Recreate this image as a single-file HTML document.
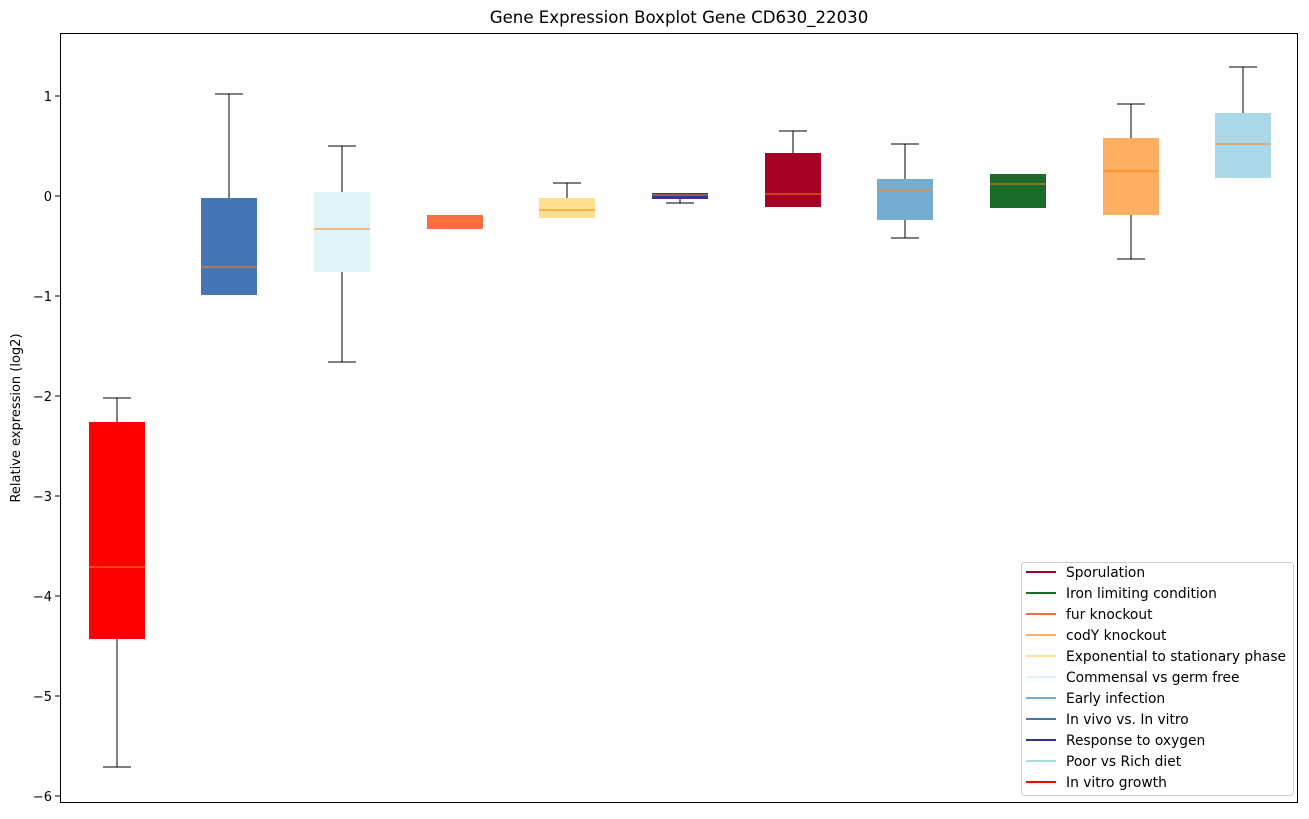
<!DOCTYPE html>
<html><head><meta charset="utf-8"><style>body{margin:0;background:#fff}</style></head><body>
<svg width="1309" height="814" xmlns="http://www.w3.org/2000/svg" font-family="DejaVu Sans, Liberation Sans, sans-serif">
<rect width="1309" height="814" fill="#fff"/>
<text x="679" y="23" font-size="16.6" text-anchor="middle">Gene Expression Boxplot Gene CD630_22030</text>
<text x="20" y="418" font-size="13" text-anchor="middle" transform="rotate(-90 20 418)">Relative expression (log2)</text>
<g font-size="13" text-anchor="end">
<line x1="55" x2="60" y1="96" y2="96" stroke="#000"/><text x="52" y="101">1</text>
<line x1="55" x2="60" y1="196" y2="196" stroke="#000"/><text x="52" y="201">0</text>
<line x1="55" x2="60" y1="296" y2="296" stroke="#000"/><text x="52" y="301">−1</text>
<line x1="55" x2="60" y1="396" y2="396" stroke="#000"/><text x="52" y="401">−2</text>
<line x1="55" x2="60" y1="496" y2="496" stroke="#000"/><text x="52" y="501">−3</text>
<line x1="55" x2="60" y1="596" y2="596" stroke="#000"/><text x="52" y="601">−4</text>
<line x1="55" x2="60" y1="696" y2="696" stroke="#000"/><text x="52" y="701">−5</text>
<line x1="55" x2="60" y1="796" y2="796" stroke="#000"/><text x="52" y="801">−6</text>
</g>
<g stroke="#000">
<line x1="117" x2="117" y1="398" y2="422"/><line x1="117" x2="117" y1="639" y2="767"/><line x1="103" x2="131" y1="398" y2="398"/><line x1="103" x2="131" y1="767" y2="767"/>
<line x1="229" x2="229" y1="94" y2="198"/><line x1="215" x2="243" y1="94" y2="94"/>
<line x1="342" x2="342" y1="146" y2="192"/><line x1="342" x2="342" y1="272" y2="362"/><line x1="328" x2="356" y1="146" y2="146"/><line x1="328" x2="356" y1="362" y2="362"/>
<line x1="567" x2="567" y1="183" y2="198"/><line x1="553" x2="581" y1="183" y2="183"/>
<line x1="680" x2="680" y1="199" y2="203"/><line x1="666" x2="694" y1="203" y2="203"/>
<line x1="793" x2="793" y1="131" y2="153"/><line x1="779" x2="807" y1="131" y2="131"/>
<line x1="905" x2="905" y1="144" y2="179"/><line x1="905" x2="905" y1="220" y2="238"/><line x1="891" x2="919" y1="144" y2="144"/><line x1="891" x2="919" y1="238" y2="238"/>
<line x1="1131" x2="1131" y1="104" y2="138"/><line x1="1131" x2="1131" y1="215" y2="259"/><line x1="1117" x2="1145" y1="104" y2="104"/><line x1="1117" x2="1145" y1="259" y2="259"/>
<line x1="1243" x2="1243" y1="67" y2="113"/><line x1="1229" x2="1257" y1="67" y2="67"/>
</g>
<rect x="89" y="422" width="56" height="217" fill="#ff0000"/>
<rect x="201" y="198" width="56" height="97" fill="#4575b4"/>
<rect x="314" y="192" width="56" height="80" fill="#e0f3f8"/>
<rect x="427" y="215" width="56" height="14" fill="#f46d43"/>
<rect x="539" y="198" width="56" height="20" fill="#fee090"/>
<rect x="652" y="193" width="56" height="6" fill="#313695"/>
<rect x="765" y="153" width="56" height="54" fill="#a50026"/>
<rect x="877" y="179" width="56" height="41" fill="#74add1"/>
<rect x="990" y="174" width="56" height="34" fill="#1a6a2a"/>
<rect x="1103" y="138" width="56" height="77" fill="#fdae61"/>
<rect x="1215" y="113" width="56" height="65" fill="#abd9e9"/>
<g stroke="#ff7f0e">
<line x1="89" x2="145" y1="567" y2="567"/><line x1="201" x2="257" y1="267" y2="267"/><line x1="314" x2="370" y1="229" y2="229"/><line x1="427" x2="483" y1="221" y2="221"/><line x1="539" x2="595" y1="210" y2="210"/><line x1="652" x2="708" y1="195" y2="195"/><line x1="765" x2="821" y1="194" y2="194"/><line x1="877" x2="933" y1="190" y2="190"/><line x1="990" x2="1046" y1="184" y2="184"/><line x1="1103" x2="1159" y1="171" y2="171"/><line x1="1215" x2="1271" y1="144" y2="144"/>
</g>
<rect x="60.5" y="33.5" width="1237" height="769" fill="none" stroke="#000"/>
<rect x="1021.5" y="562.5" width="272" height="233" rx="3" fill="#fff" stroke="#ccc"/>
<g stroke-width="2">
<line x1="1026" x2="1056" y1="572" y2="572" stroke="#a50026"/>
<line x1="1026" x2="1056" y1="593" y2="593" stroke="#1a6a2a"/>
<line x1="1026" x2="1056" y1="614" y2="614" stroke="#f46d43"/>
<line x1="1026" x2="1056" y1="635" y2="635" stroke="#fdae61"/>
<line x1="1026" x2="1056" y1="656" y2="656" stroke="#fee090"/>
<line x1="1026" x2="1056" y1="677" y2="677" stroke="#e0f3f8"/>
<line x1="1026" x2="1056" y1="698" y2="698" stroke="#74add1"/>
<line x1="1026" x2="1056" y1="719" y2="719" stroke="#4575b4"/>
<line x1="1026" x2="1056" y1="740" y2="740" stroke="#313695"/>
<line x1="1026" x2="1056" y1="761" y2="761" stroke="#abd9e9"/>
<line x1="1026" x2="1056" y1="782" y2="782" stroke="#ff0000"/>
</g>
<g font-size="13.8">
<text x="1066" y="577">Sporulation</text>
<text x="1066" y="598">Iron limiting condition</text>
<text x="1066" y="619">fur knockout</text>
<text x="1066" y="640">codY knockout</text>
<text x="1066" y="661">Exponential to stationary phase</text>
<text x="1066" y="682">Commensal vs germ free</text>
<text x="1066" y="703">Early infection</text>
<text x="1066" y="724">In vivo vs. In vitro</text>
<text x="1066" y="745">Response to oxygen</text>
<text x="1066" y="766">Poor vs Rich diet</text>
<text x="1066" y="787">In vitro growth</text>
</g>
</svg>
</body></html>
